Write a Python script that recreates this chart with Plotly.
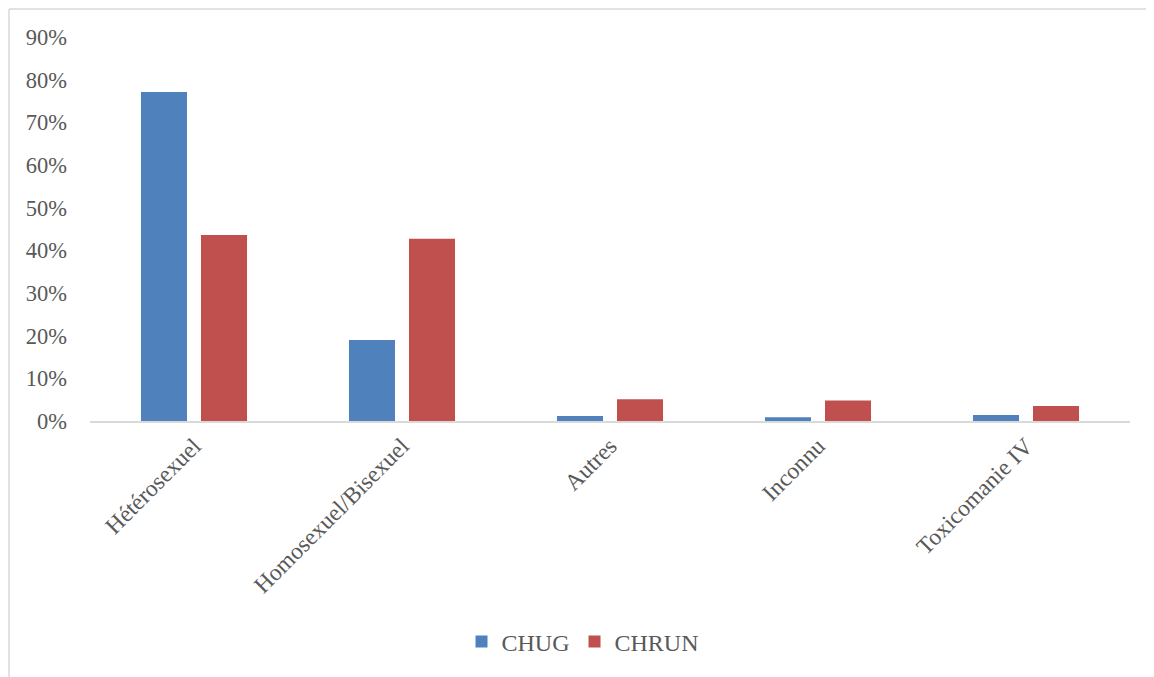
import plotly.graph_objects as go

categories = ["Hétérosexuel", "Homosexuel/Bisexuel", "Autres", "Inconnu", "Toxicomanie IV"]
chug = [0.771, 0.190, 0.012, 0.009, 0.014]
chrun = [0.436, 0.427, 0.051, 0.048, 0.035]
tick_vals = [0, 0.1, 0.2, 0.3, 0.4, 0.5, 0.6, 0.7, 0.8, 0.9]
tick_text = ["0%", "10%", "20%", "30%", "40%", "50%", "60%", "70%", "80%", "90%"]

OFF = 8  # page body offset
W, H = 1154 - OFF, 677 - OFF
# plot area in screen px: x 90..1130, y 37..421
L, T = 90 - OFF, 37 - OFF
R = W - (1130 - OFF)
B = H - (421 - OFF)
pw = W - L - R
ph = H - T - B

font = "Liberation Serif, Times New Roman, serif"
grey = "#595959"

fig = go.Figure()
fig.add_trace(go.Bar(name="CHUG", x=categories, y=chug, marker=dict(color="#4F81BD", line=dict(width=0))))
fig.add_trace(go.Bar(name="CHRUN", x=categories, y=chrun, marker=dict(color="#C0504D", line=dict(width=0))))

# outer chart border (top and left edges visible)
xl = (1 - L) / pw
xr = (W - L) / pw
yt = (H - B - 1) / ph
yb = (H - B - H) / ph
fig.add_shape(type="line", xref="paper", yref="paper", x0=xl, x1=xr, y0=yt, y1=yt,
              line=dict(color="#D9D9D9", width=1.5), layer="below")
fig.add_shape(type="line", xref="paper", yref="paper", x0=xl, x1=xl, y0=yt, y1=yb,
              line=dict(color="#D9D9D9", width=1.5), layer="below")

fig.update_layout(
    width=W, height=H,
    margin=dict(l=L, r=R, t=T, b=B, autoexpand=False),
    paper_bgcolor="white", plot_bgcolor="white",
    barmode="group", bargap=0.423, bargroupgap=0.233,
    font=dict(family=font, size=22, color=grey),
    showlegend=True,
    legend=dict(orientation="h", x=0.5 - 27 / pw, xanchor="center", y=(H - B - (642 - OFF)) / ph, yanchor="middle",
                font=dict(family=font, size=24, color=grey), itemwidth=30, traceorder="normal"),
    xaxis=dict(tickangle=-45, showgrid=False, showline=True, linecolor="#D9D9D9", linewidth=2,
               ticks="", tickfont=dict(family=font, size=23.5, color=grey)),
    yaxis=dict(range=[0, 0.9], tickvals=tick_vals, ticktext=tick_text, showgrid=False,
               showline=False, zeroline=False, ticks="", ticklabelstandoff=22,
               tickfont=dict(family=font, size=22.5, color=grey)),
)

fig.write_html("out.html")
